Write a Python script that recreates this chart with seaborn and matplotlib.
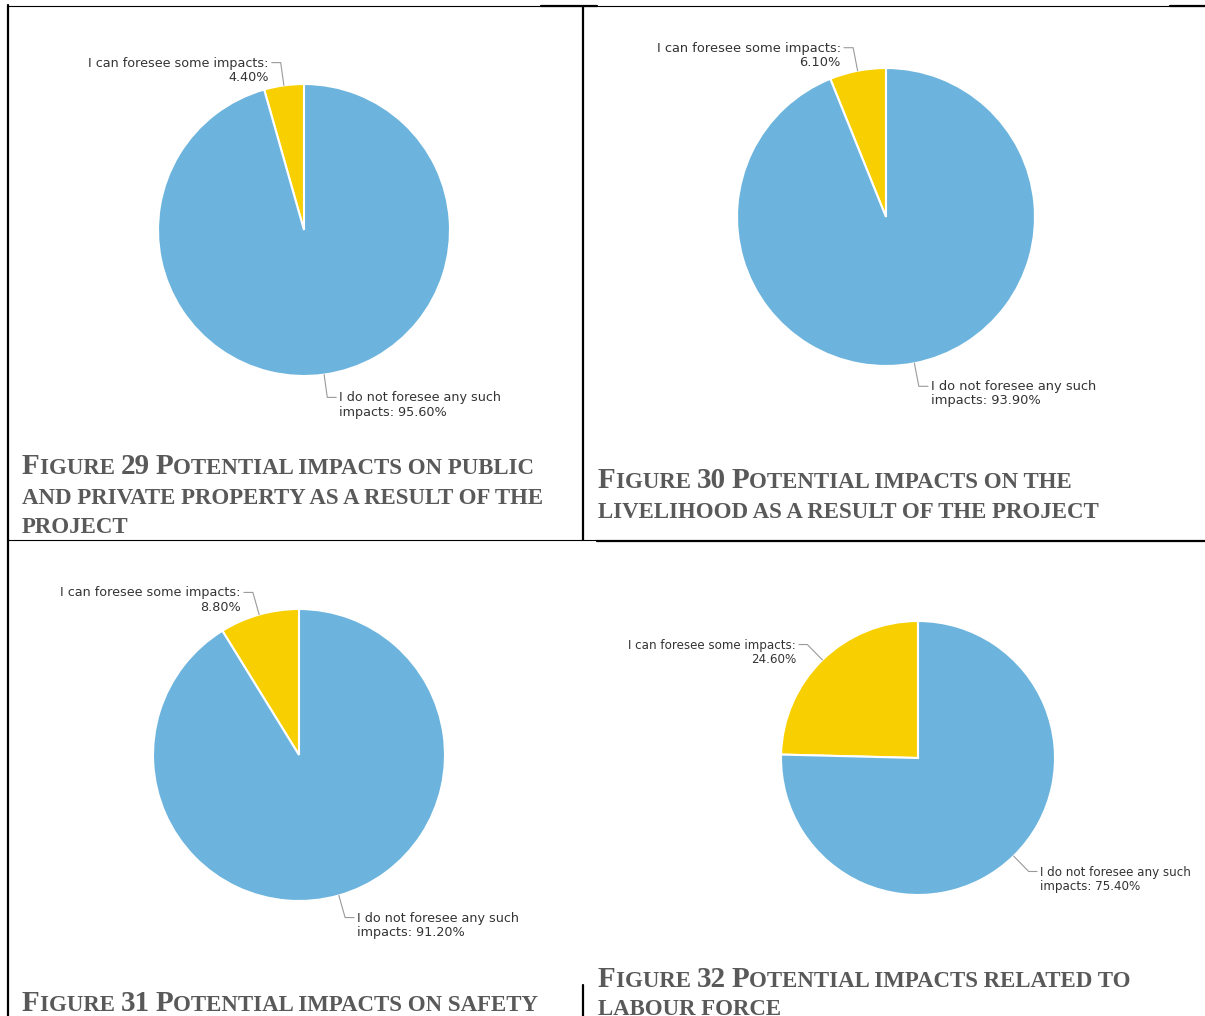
import numpy as np
import matplotlib
matplotlib.use("Agg")
import matplotlib.pyplot as plt
import seaborn as sns
from matplotlib.font_manager import findfont, FontProperties
from matplotlib.ft2font import FT2Font

# ──────────────────────────────────────────────
# DATA
# ──────────────────────────────────────────────
fig_numbers = [29, 30, 31, 32]
captions = [
    ["Figure 29 Potential impacts on public",
     "and private property as a result of the",
     "project"],
    ["Figure 30 Potential impacts on the",
     "livelihood as a result of the project"],
    ["Figure 31 Potential impacts on safety"],
    ["Figure 32 Potential impacts related to",
     "labour force"],
]
slice_names = ["I can foresee some impacts:", "I do not foresee any such\nimpacts:"]
foresee     = [4.40, 6.10, 8.80, 24.60]
not_foresee = [95.60, 93.90, 91.20, 75.40]

# ──────────────────────────────────────────────
# LAYOUT (pixels, top-left origin)
# ──────────────────────────────────────────────
W, H = 1205, 1016
# centre x, centre y, radius, scale of the pasted chart image
pie_centers = [(304, 230, 146, 1.0), (886, 217, 149, 1.02),
               (299, 755, 146, 1.0), (918, 758, 137, 0.935)]
caption_pos = [(22, 474, 29.5), (598, 488, 30), (22, 1011, 30), (598, 987, 28)]

YELLOW = "#f8cf00"
BLUE = "#6cb4dd"
CAPTION_GREY = "#595959"
LABEL_GREY = "#333333"
LEADER_GREY = "#9a9a9a"

sns.set_theme(style="white")
plt.rcParams["font.family"] = ["DejaVu Sans"]

fig = plt.figure(figsize=(W / 100, H / 100), dpi=100)
fig.patch.set_facecolor("white")

bg = fig.add_axes([0, 0, 1, 1])
bg.set_xlim(0, W)
bg.set_ylim(H, 0)
bg.axis("off")

# ── table rules ────────────────────────────────
thin, thick = 0.8, 1.6
bg.plot([8, 1205], [5.5, 5.5], color="black", lw=thin)
bg.plot([541, 597], [6, 6], color="black", lw=thick)
bg.plot([1170, 1205], [6, 6], color="black", lw=thick)
bg.plot([8, 8], [5, 1016], color="black", lw=thick)
bg.plot([583, 583], [6, 540], color="black", lw=thick)
bg.plot([8, 597], [540, 540], color="black", lw=thin)
bg.plot([597, 1205], [541, 541], color="black", lw=thick)
bg.plot([583, 583], [985, 1016], color="black", lw=thick)

# ── small-caps captions ────────────────────────
serif_path = findfont(FontProperties(family="Liberation Serif", weight="bold"))
ft = FT2Font(serif_path)


def advance(s, size):
    ft.set_size(size, 100)
    return sum(ft.load_char(ord(c)).linearHoriAdvance for c in s) / 65536


def small_caps(x, y, text, big=21.0, small=16.5):
    runs = []
    for ch in text:
        is_big = ch.isupper() or ch.isdigit()
        if runs and runs[-1][0] == is_big:
            runs[-1][1] += ch
        else:
            runs.append([is_big, ch])
    for is_big, run in runs:
        size = big if is_big else small
        bg.text(x, y, run.upper(), fontsize=size, fontweight="bold",
                family="Liberation Serif", color=CAPTION_GREY,
                va="baseline", ha="left")
        x += advance(run.upper(), size)


for lines, (x0, y0, step) in zip(captions, caption_pos):
    for i, line in enumerate(lines):
        small_caps(x0, y0 + i * step, line)

# ── pies ──────────────────────────────────────
for k, (cx, cy, r, sc) in enumerate(pie_centers):
    ax = fig.add_axes([(cx - r) / W, 1 - (cy + r) / H, 2 * r / W, 2 * r / H])
    vals = [foresee[k], not_foresee[k]]
    ax.pie(vals, colors=[YELLOW, BLUE], startangle=90, counterclock=True,
           wedgeprops=dict(edgecolor="white", linewidth=1.5))
    ax.set_xlim(-1, 1)
    ax.set_ylim(-1, 1)
    ax.axis("off")

    px = 1.0 / r  # one pixel in data units
    cum = np.cumsum([0] + vals)
    for j, v in enumerate(vals):
        mid = np.deg2rad(90 + 360 * (cum[j] + v / 2) / 100)
        ex, ey = np.cos(mid), np.sin(mid)
        ox, oy = ex * (1 + 23 * sc * px), ey * (1 + 23 * sc * px)
        side = 1 if ex > 0 else -1
        hx = ox + side * 9 * sc * px
        ax.plot([ex, ox, hx], [ey, oy, oy], color=LEADER_GREY, lw=0.8,
                clip_on=False)
        label = f"{slice_names[j]}\n{v:.2f}%" if j == 0 else f"{slice_names[j]} {v:.2f}%"
        ax.annotate(label, xy=(hx, oy), xytext=(side * 3, 6 * sc),
                    textcoords="offset pixels", fontsize=9.2 * sc,
                    color=LABEL_GREY, ha="left" if side > 0 else "right",
                    va="top", multialignment="left" if side > 0 else "right",
                    linespacing=1.12, annotation_clip=False)

fig.savefig("out.png", dpi=100, facecolor="white")
